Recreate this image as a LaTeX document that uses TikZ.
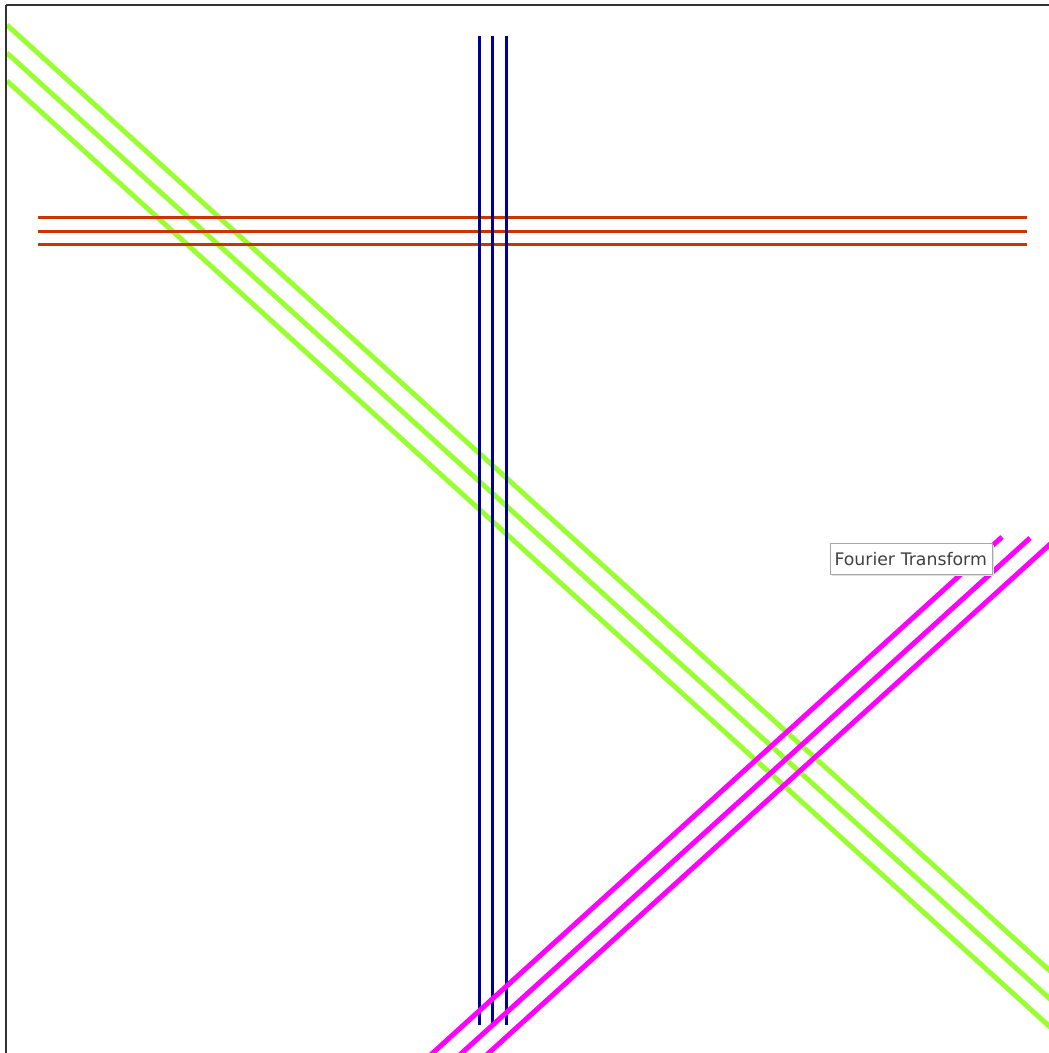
\documentclass[tikz,border=0pt]{standalone}
\usepackage{fontspec}
\setmainfont{DejaVu Sans}
\usepackage{xcolor}
\usepackage{tikz}
\usetikzlibrary{positioning}

\definecolor{linegreen}{RGB}{153,255,51}
\definecolor{lineorange}{RGB}{204,51,0}
\definecolor{lineblue}{RGB}{0,0,153}
\definecolor{linemagenta}{RGB}{255,0,255}

\begin{document}
\begin{tikzpicture}[
  x=1pt, y=-1pt,
  frame/.style={line width=2pt, black!80},
  greenline/.style={line width=5pt, linegreen},
  magentaline/.style={line width=5pt, linemagenta},
  blueline/.style={line width=3pt, lineblue},
  orangeline/.style={line width=3pt, lineorange},
  tip/.style={draw=black!35, fill=white, line width=1pt, minimum width=162pt, minimum height=31pt,
    inner xsep=4pt, text width=154pt, align=left, font=\fontsize{17.3}{19}\selectfont, text=black!75},
]
\useasboundingbox (0,0) rectangle (1049,1053);

\begin{scope}
\clip (7,6) rectangle (1049,1053);

% Diagonal lines falling to the right
\draw[greenline] (7,25) -- (1060,980);
\draw[greenline] (7,53) -- (1060,1008);
\draw[greenline] (7,81) -- (1060,1036);

% Horizontal lines
\draw[orangeline] (38,217) -- (1027,217);
\draw[orangeline] (38,231) -- (1027,231);
\draw[orangeline] (38,244) -- (1027,244);

% Vertical lines
\draw[blueline] (479,36) -- (479,1025);
\draw[blueline] (492,36) -- (492,1025);
\draw[blueline] (506,36) -- (506,1025);

% Diagonal lines rising to the right
\draw[magentaline] (1002,537) -- (425,1060);
\draw[magentaline] (1030,538) -- (453,1061);
\draw[magentaline] (1058,537) -- (481,1060);
\end{scope}

% Frame
\draw[frame] (6,5) -- (1049,5);
\draw[frame] (6,5) -- (6,1053);

% Tooltip
\fill[black!12] (832,545) rectangle (994,576);
\node[tip, anchor=north west] (tooltip) at (830,543) {Fourier Transform};

\end{tikzpicture}
\end{document}
